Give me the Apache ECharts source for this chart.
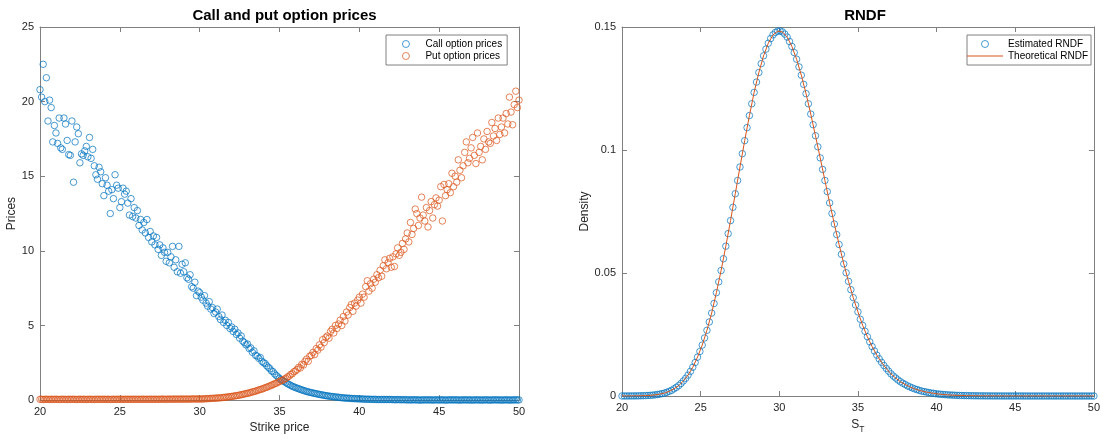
<!DOCTYPE html>
<html><head><meta charset="utf-8">
<script src="https://cdn.jsdelivr.net/npm/echarts/dist/echarts.min.js"></script>
<style>html,body{margin:0;padding:0;background:#fff}#c{width:1103px;height:439px}</style>
</head><body><div id="c"></div><script>
// ---- data ----
const strikeStart = 20, strikeStep = 0.1;
const callPrices = [
20.8,20.3,22.5,20.0,21.6,18.7,20.1,19.6,17.3,18.4,
17.9,17.2,18.9,16.9,16.8,18.9,18.5,17.4,16.45,16.4,
18.7,14.6,17.3,18.3,17.85,15.9,16.5,16.4,16.7,17.0,
16.3,17.6,16.2,16.8,15.7,15.1,14.8,15.6,15.3,14.5,
13.7,14.9,14.4,14.0,12.5,14.1,13.5,15.1,14.4,14.2,
12.9,13.3,14.2,13.8,14.0,13.2,12.4,13.5,12.3,12.9,
12.2,12.7,11.7,12.1,11.4,11.9,11.2,12.1,10.9,11.3,
10.6,11.0,10.4,10.9,10.1,10.4,9.7,10.2,9.9,9.3,
9.9,9.2,9.6,10.3,8.9,9.4,8.6,10.3,8.5,9.1,
8.6,9.2,8.2,8.1,8.4,7.6,7.5,7.9,7.0,7.3,
7.2,6.9,6.7,7.0,6.5,6.3,6.6,6.1,6.2,5.8,
5.9,6.1,5.6,5.4,5.7,5.2,5.35,5.0,5.2,4.8,
4.9,4.6,4.75,4.4,4.5,4.15,4.3,3.95,3.85,3.7,
3.75,3.45,3.5,3.2,3.3,3.0,2.95,2.8,2.85,2.6,
2.5,2.45,2.3,2.2,2.1,1.95,1.9,1.75,1.65,1.55,
1.45,1.38,1.3,1.25,1.17,1.1,1.05,0.98,0.93,0.88,
0.84,0.8,0.76,0.72,0.68,0.65,0.61,0.58,0.55,0.52,
0.5,0.47,0.45,0.43,0.4,0.38,0.36,0.34,0.32,0.3,
0.28,0.27,0.25,0.24,0.22,0.21,0.2,0.19,0.17,0.16,
0.15,0.14,0.13,0.13,0.12,0.11,0.1,0.1,0.09,0.09,
0.08,0.08,0.07,0.07,0.06,0.06,0.06,0.05,0.05,0.05,
0.05,0.04,0.04,0.04,0.04,0.04,0.04,0.04,0.04,0.04,
0.04,0.03,0.03,0.02,0.04,0.03,0.02,0.03,0.02,0.03,
0.01,0.02,0.01,0.01,0.03,0.01,0.02,0.01,0.00,0.01,
0.01,0.02,0.01,0.01,0.02,0.01,0.00,0.01,0.02,0.01,
0.01,0.01,0.02,0.01,0.00,0.01,0.01,0.02,0.01,0.01,
0.02,0.01,0.01,0.00,0.01,0.01,0.02,0.01,0.01,0.01,
0.01,0.00,0.01,0.02,0.01,0.01,0.01,0.00,0.01,0.02,
0.01,0.01,0.00,0.01,0.01,0.02,0.01,0.01,0.01,0.00,
0.01,0.01,0.02,0.01,0.00,0.01,0.01,0.01,0.02,0.01,
0.01
];
const putPrices = [
0.05,0.06,0.04,0.05,0.06,0.05,0.04,0.06,0.05,0.05,
0.06,0.05,0.04,0.05,0.06,0.05,0.05,0.04,0.06,0.05,
0.05,0.06,0.05,0.04,0.05,0.06,0.05,0.05,0.06,0.04,
0.05,0.06,0.05,0.05,0.04,0.06,0.05,0.06,0.05,0.05,
0.06,0.05,0.05,0.06,0.04,0.05,0.06,0.05,0.05,0.06,
0.05,0.06,0.05,0.05,0.06,0.05,0.06,0.05,0.06,0.05,
0.06,0.05,0.06,0.05,0.06,0.06,0.05,0.06,0.05,0.06,
0.06,0.05,0.06,0.06,0.05,0.06,0.06,0.07,0.05,0.06,
0.06,0.07,0.06,0.06,0.07,0.06,0.07,0.06,0.07,0.07,
0.06,0.07,0.07,0.06,0.07,0.07,0.08,0.07,0.07,0.08,
0.07,0.08,0.07,0.09,0.09,0.1,0.1,0.11,0.12,0.12,
0.13,0.14,0.15,0.15,0.17,0.18,0.19,0.2,0.22,0.23,
0.25,0.26,0.28,0.3,0.31,0.34,0.36,0.38,0.41,0.43,
0.46,0.48,0.51,0.55,0.57,0.6,0.64,0.68,0.71,0.74,
0.78,0.83,0.86,0.91,0.95,1.0,1.04,1.1,1.13,1.2,
1.24,1.3,1.33,1.41,1.45,1.55,1.6,1.72,1.76,1.9,
1.95,2.05,2.2,2.15,2.4,2.35,2.6,2.75,2.6,2.95,
3.0,3.2,3.05,3.45,3.35,3.7,3.55,4.05,3.85,4.2,
4.3,4.15,4.6,4.75,4.5,5.0,4.8,5.1,5.35,5.0,
5.6,5.3,5.9,5.7,6.2,6.4,5.95,6.5,6.3,6.7,
6.9,6.5,7.1,6.9,7.6,8.0,7.3,7.8,7.5,8.1,
7.9,8.4,8.2,8.7,8.3,9.0,9.4,8.8,9.2,9.5,
8.9,9.6,8.95,9.8,10.2,9.7,9.9,10.5,10.1,10.8,
11.2,10.6,11.9,11.1,11.5,12.8,12.5,11.7,12.2,13.6,
12.4,12.0,12.9,11.6,12.7,13.3,12.2,13.1,13.55,13.0,
13.4,14.3,12.0,14.45,13.7,14.1,14.5,13.9,15.2,14.3,
15.0,14.6,16.1,15.4,14.9,15.7,16.6,17.3,15.9,16.2,
16.9,17.6,16.4,15.85,17.9,16.6,17.0,16.1,17.5,16.8,
18.0,17.3,17.2,18.6,17.7,18.2,17.4,18.9,17.8,18.3,
18.9,17.9,19.2,18.5,20.3,19.3,18.45,19.8,20.7,19.6,
20.1
];
const rndfEstStart = 20, rndfEstStep = 0.15;
const rndfEstimated = [
0.00001,0.00001,0.00001,0.00002,0.00002,0.00003,0.00005,0.00006,0.00009,0.00012,
0.00016,0.00021,0.00027,0.00036,0.00046,0.0006,0.00076,0.00097,0.0012,0.0015,
0.0019,0.0023,0.0029,0.0035,0.0042,0.0051,0.0061,0.0072,0.0085,0.0100,
0.0117,0.0136,0.0158,0.0181,0.0207,0.0236,0.0267,0.0301,0.0337,0.0376,
0.0420,0.0464,0.0510,0.0558,0.0609,0.0660,0.0713,0.0767,0.0822,0.0876,
0.0931,0.0985,0.1038,0.1091,0.1140,0.1188,0.1234,0.1276,0.1315,0.1351,
0.1383,0.1410,0.1434,0.1453,0.1468,0.1478,0.1483,0.1484,0.1480,0.1471,
0.1459,0.1441,0.1421,0.1396,0.1369,0.1338,0.1304,0.1267,0.1229,0.1188,
0.1146,0.1103,0.1058,0.1013,0.0968,0.0921,0.0876,0.0831,0.0785,0.0742,
0.0699,0.0656,0.0616,0.0576,0.0537,0.0501,0.0466,0.0432,0.0400,0.0370,
0.0342,0.0312,0.0287,0.0263,0.0241,0.0220,0.0201,0.0183,0.0166,0.0151,
0.0137,0.0124,0.0112,0.0101,0.0090,0.0081,0.0073,0.0065,0.0058,0.0052,
0.0047,0.0041,0.0037,0.0033,0.0029,0.0026,0.0023,0.0020,0.0018,0.0016,
0.0014,0.0012,0.0011,0.00093,0.00081,0.00071,0.00062,0.00054,0.00047,0.00041,
0.00036,0.00031,0.00027,0.00023,0.0002,0.00017,0.00015,0.00013,0.00011,0.0001,
0.00008,0.00007,0.00006,0.00005,0.00004,0.00004,0.00003,0.00003,0.00002,0.00002,
0.00002,0.00001,0.00001,0.00001,0.00001,0.00001,0.00001,0.00001,0.00001,0.00001,
0.00001,0,0,0,0,0,0,0,0,0,
0,0,0,0,0,0,0,0,0,0,
0,0,0,0,0,0,0,0,0,0,0
];
const rndfTheoStart = 20, rndfTheoStep = 0.3;
const rndfTheoretical = [
0.00001,0.00001,0.00002,0.00005,0.00009,0.00016,0.00027,0.00046,0.00076,0.0012,
0.0019,0.0029,0.0042,0.0061,0.0085,0.0117,0.0158,0.0207,0.0267,0.0337,
0.0420,0.0510,0.0609,0.0713,0.0822,0.0931,0.1038,0.1140,0.1234,0.1315,
0.1383,0.1434,0.1468,0.1483,0.1480,0.1459,0.1421,0.1369,0.1304,0.1229,
0.1146,0.1058,0.0968,0.0876,0.0785,0.0699,0.0616,0.0537,0.0466,0.0400,
0.0342,0.0287,0.0241,0.0201,0.0166,0.0137,0.0112,0.0090,0.0073,0.0058,
0.0047,0.0037,0.0029,0.0023,0.0018,0.0014,0.0011,0.00081,0.00062,0.00047,
0.00036,0.00027,0.0002,0.00015,0.00011,0.00008,0.00006,0.00004,0.00003,0.00002,
0.00002,0.00001,0.00001,0.00001,0.00001,0.00001,0,0,0,0,
0,0,0,0,0,0,0,0,0,0,0
];
const xTicks = {min: 20, max: 50, interval: 5};
const yTicksLeft = {min: 0, max: 25, interval: 5};
const yTicksRight = {min: 0, max: 0.15, interval: 0.05};

// ---- build ----
const pairs = (start, step, arr) => arr.map((v, i) => [+(start + step * i).toFixed(2), v]);
const FONT = '"Liberation Sans", Arial, Helvetica, sans-serif';
const LINE = '#808080', TXT = '#262626';
const BLUE = '#0072BD', ORANGE = '#D95319';

function axisBase(extra) {
  return Object.assign({
    type: 'value',
    axisLine: {show: true, onZero: false, lineStyle: {color: LINE, width: 1}},
    axisTick: {show: true, inside: true, length: 5, lineStyle: {color: LINE, width: 1}},
    axisLabel: {color: TXT, fontSize: 11, fontFamily: FONT, margin: 6},
    splitLine: {show: false},
    nameTextStyle: {color: TXT, fontSize: 12, fontFamily: FONT},
    nameLocation: 'middle'
  }, extra);
}
const noLabel = {show: false};
const ring = c => ({color: 'rgba(0,0,0,0)', borderColor: c, borderWidth: 0.9});

const chart = echarts.init(document.getElementById('c'), null, {renderer: 'canvas'});
chart.setOption({
  animation: false,
  backgroundColor: '#fff',
  title: [
    {text: 'Call and put option prices', left: 279.5, top: 3, textAlign: 'center',
     textStyle: {fontSize: 15, fontWeight: 'bold', color: '#000', fontFamily: FONT}},
    {text: 'RNDF', left: 860, top: 3, textAlign: 'center',
     textStyle: {fontSize: 15, fontWeight: 'bold', color: '#000', fontFamily: FONT}}
  ],
  grid: [
    {left: 40, top: 27, width: 479, height: 374},
    {left: 622, top: 27, width: 476, height: 374}
  ],
  xAxis: [
    axisBase(Object.assign({gridIndex: 0, position: 'bottom', name: 'Strike price', nameGap: 20}, xTicks)),
    axisBase(Object.assign({gridIndex: 1, position: 'bottom', name: '{s|S}{t|T}', nameGap: 20,
      nameTextStyle: {color: TXT, fontFamily: FONT, rich: {
        s: {fontSize: 12, color: TXT, fontFamily: FONT},
        t: {fontSize: 8.5, color: TXT, fontFamily: FONT, padding: [9, 0, 0, 0]}
      }}}, xTicks)),
    axisBase(Object.assign({gridIndex: 0, position: 'top', axisLabel: noLabel}, xTicks)),
    axisBase(Object.assign({gridIndex: 1, position: 'top', axisLabel: noLabel}, xTicks))
  ],
  yAxis: [
    axisBase(Object.assign({gridIndex: 0, position: 'left', name: 'Prices', nameGap: 20}, yTicksLeft)),
    axisBase(Object.assign({gridIndex: 1, position: 'left', name: 'Density', nameGap: 24,
      axisLabel: {color: TXT, fontSize: 11, fontFamily: FONT, margin: 6,
        formatter: v => String(+v.toFixed(2))}}, yTicksRight)),
    axisBase(Object.assign({gridIndex: 0, position: 'right', axisLabel: noLabel}, yTicksLeft)),
    axisBase(Object.assign({gridIndex: 1, position: 'right', axisLabel: noLabel}, yTicksRight))
  ],
  legend: [
    {data: [
        {name: 'Call option prices', icon: 'circle', itemStyle: ring(BLUE)},
        {name: 'Put option prices', icon: 'circle', itemStyle: ring(ORANGE)}
     ],
     orient: 'vertical', left: 386, top: 35,
     itemWidth: 7, itemHeight: 7, itemGap: 0, padding: [3, 5, 3, 16],
     borderColor: LINE, borderWidth: 1, backgroundColor: '#fff',
     textStyle: {fontSize: 10, color: '#000', fontFamily: FONT, lineHeight: 12, padding: [0, 0, 0, 11]}},
    {data: [
        {name: 'Estimated RNDF', icon: 'circle', itemStyle: ring(BLUE)},
        {name: 'Theoretical RNDF', icon: 'path://M0,0L36,0L36,1L0,1Z',
         itemStyle: {color: ORANGE, borderWidth: 0}}
     ],
     orient: 'vertical', left: 967, top: 35,
     itemWidth: 36, itemHeight: 7, itemGap: 0, padding: [3, 3, 3, 0],
     borderColor: LINE, borderWidth: 1, backgroundColor: '#fff',
     textStyle: {fontSize: 10, color: '#000', fontFamily: FONT, lineHeight: 12}}
  ],
  series: [
    {type: 'scatter', name: 'Call option prices', xAxisIndex: 0, yAxisIndex: 0,
     symbol: 'circle', symbolSize: 6.5, itemStyle: ring(BLUE),
     data: pairs(strikeStart, strikeStep, callPrices)},
    {type: 'scatter', name: 'Put option prices', xAxisIndex: 0, yAxisIndex: 0,
     symbol: 'circle', symbolSize: 6.5, itemStyle: ring(ORANGE),
     data: pairs(strikeStart, strikeStep, putPrices)},
    {type: 'scatter', name: 'Estimated RNDF', xAxisIndex: 1, yAxisIndex: 1,
     symbol: 'circle', symbolSize: 6.5, itemStyle: ring(BLUE),
     data: pairs(rndfEstStart, rndfEstStep, rndfEstimated)},
    {type: 'line', name: 'Theoretical RNDF', xAxisIndex: 1, yAxisIndex: 1,
     symbol: 'none', showSymbol: false, z: 3,
     lineStyle: {color: ORANGE, width: 1}, itemStyle: {color: ORANGE},
     data: pairs(rndfTheoStart, rndfTheoStep, rndfTheoretical)}
  ]
});
</script></body></html>
